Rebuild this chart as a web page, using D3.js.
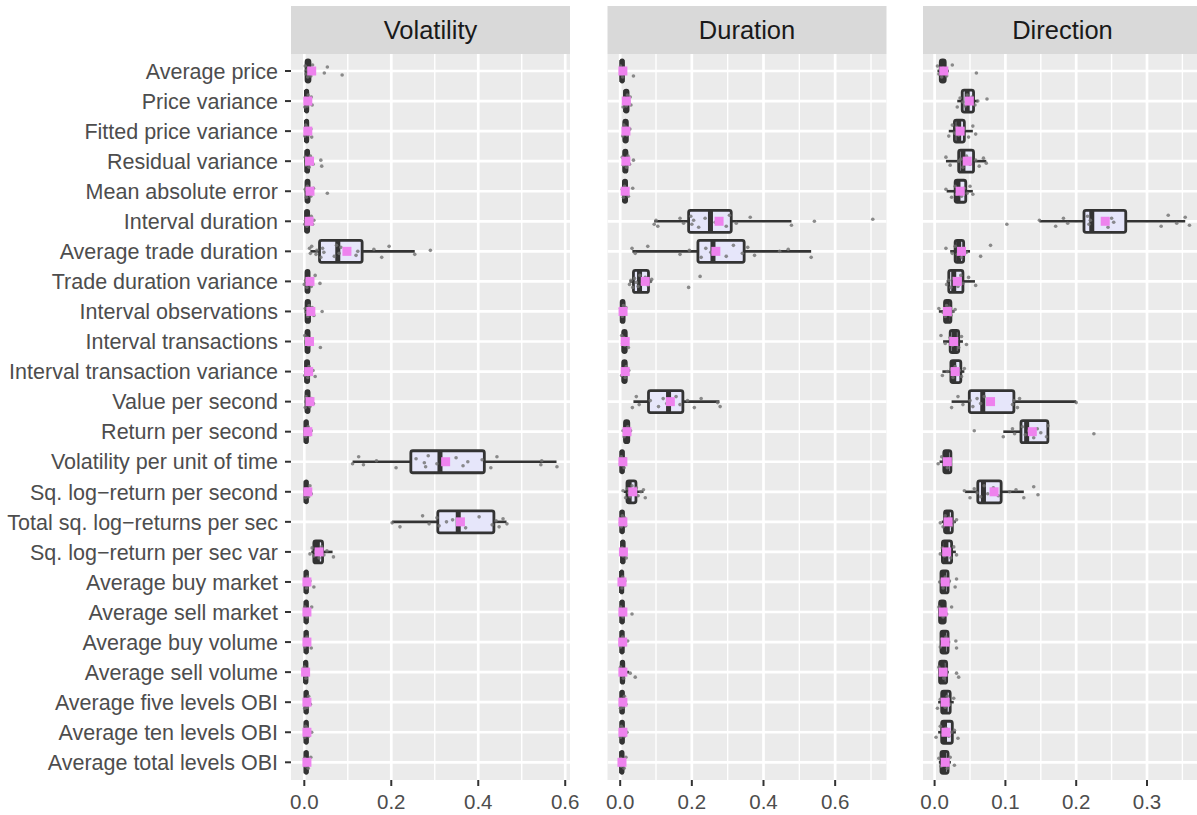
<!DOCTYPE html>
<html><head><meta charset="utf-8">
<script src="https://cdn.jsdelivr.net/npm/d3@7"></script>
<style>body{margin:0;background:#fff;}svg{display:block;}</style>
</head><body>
<svg id="chart" width="1197" height="815"></svg>
<script>
const categories = ["Average price","Price variance","Fitted price variance","Residual variance","Mean absolute error","Interval duration","Average trade duration","Trade duration variance","Interval observations","Interval transactions","Interval transaction variance","Value per second","Return per second","Volatility per unit of time","Sq. log\u2212return per second","Total sq. log\u2212returns per sec","Sq. log\u2212return per sec var","Average buy market","Average sell market","Average buy volume","Average sell volume","Average five levels OBI","Average ten levels OBI","Average total levels OBI"];
const facets = ["Volatility","Duration","Direction"];

// box stats: [lower whisker, q1, median, q3, upper whisker]
const volatilityBox = [[0.001,0.004,0.008,0.013,0.02],[0,0.003,0.005,0.008,0.012],[0,0.003,0.005,0.008,0.012],[0.001,0.004,0.006,0.01,0.015],[0.001,0.004,0.007,0.011,0.016],[0,0.003,0.006,0.01,0.015],[0.014,0.035,0.077,0.133,0.254],[0.001,0.004,0.007,0.011,0.016],[0.001,0.004,0.008,0.012,0.017],[0.001,0.004,0.007,0.011,0.015],[0,0.003,0.006,0.01,0.014],[0.001,0.004,0.007,0.011,0.016],[0,0.002,0.004,0.007,0.01],[0.111,0.245,0.312,0.414,0.58],[0,0.002,0.004,0.007,0.011],[0.202,0.307,0.354,0.436,0.465],[0.016,0.022,0.03,0.042,0.065],[0,0.002,0.004,0.007,0.01],[0,0.002,0.004,0.007,0.01],[0,0.002,0.004,0.007,0.01],[0,0.001,0.003,0.006,0.009],[0,0.002,0.004,0.007,0.01],[0,0.002,0.004,0.007,0.01],[0,0.002,0.004,0.007,0.01]];
const volatilityMean = [0.017,0.008,0.008,0.012,0.013,0.011,0.098,0.013,0.015,0.012,0.01,0.013,0.008,0.325,0.008,0.359,0.034,0.006,0.006,0.006,0.003,0.006,0.006,0.006];
const volatilityPts = [[0.002,0.004,0.006,0.008,0.01,0.012,0.015,0.019,0.046,0.053,0.087],[0.001,0.003,0.005,0.007,0.009,0.012,0.016,0.018],[0.001,0.003,0.004,0.006,0.009,0.011,0.015,0.017],[0.002,0.004,0.006,0.008,0.011,0.014,0.02,0.038,0.04],[0.002,0.005,0.007,0.009,0.012,0.015,0.021,0.053],[0.001,0.003,0.006,0.009,0.012,0.016,0.019,0.022],[0.012,0.014,0.017,0.027,0.029,0.038,0.042,0.045,0.069,0.074,0.08,0.084,0.119,0.123,0.16,0.178,0.195,0.254,0.29],[0,0.003,0.006,0.009,0.012,0.016,0.025,0.036],[0.002,0.005,0.008,0.011,0.014,0.018,0.022,0.041],[0.001,0.004,0.007,0.01,0.013,0.017,0.037],[0.001,0.003,0.005,0.008,0.011,0.015,0.02,0.025],[0.002,0.004,0.007,0.01,0.013,0.017,0.021],[0.001,0.003,0.005,0.007,0.009,0.013,0.016],[0.111,0.125,0.136,0.166,0.211,0.257,0.276,0.279,0.285,0.305,0.349,0.365,0.376,0.409,0.429,0.443,0.544,0.546,0.581],[0.001,0.003,0.005,0.007,0.01,0.013,0.016],[0.202,0.22,0.272,0.287,0.305,0.31,0.327,0.341,0.371,0.402,0.432,0.441,0.448,0.457,0.466],[0.013,0.018,0.022,0.026,0.03,0.034,0.04,0.045,0.052,0.067],[0.001,0.003,0.005,0.007,0.009,0.013,0.022],[0.001,0.003,0.004,0.006,0.008,0.011,0.017],[0.001,0.002,0.004,0.006,0.009,0.011,0.016],[0,0.001,0.002,0.004,0.006,0.008],[0.001,0.003,0.005,0.007,0.01,0.014],[0.001,0.003,0.005,0.007,0.01,0.017],[0.001,0.003,0.005,0.007,0.009,0.015]];

const durationBox = [[0,0.002,0.005,0.009,0.013],[0.008,0.012,0.016,0.022,0.028],[0.006,0.01,0.015,0.02,0.026],[0.006,0.01,0.014,0.019,0.025],[0.005,0.009,0.013,0.018,0.024],[0.095,0.191,0.252,0.31,0.478],[0.034,0.217,0.259,0.346,0.533],[0.026,0.037,0.054,0.079,0.088],[0,0.003,0.006,0.011,0.016],[0.003,0.007,0.012,0.017,0.022],[0.003,0.007,0.012,0.017,0.022],[0.037,0.079,0.135,0.175,0.277],[0.008,0.012,0.018,0.024,0.03],[0,0.002,0.005,0.009,0.013],[0.01,0.019,0.025,0.044,0.065],[0,0.002,0.005,0.009,0.013],[0.001,0.004,0.007,0.011,0.015],[0,0.002,0.004,0.007,0.011],[0,0.002,0.005,0.009,0.013],[0,0.002,0.005,0.008,0.012],[0,0.003,0.006,0.01,0.025],[0,0.002,0.005,0.009,0.013],[0,0.002,0.005,0.009,0.013],[0,0.002,0.004,0.008,0.012]];
const durationMean = [0.0075,0.017,0.016,0.016,0.014,0.276,0.267,0.07,0.008,0.014,0.014,0.14,0.019,0.0075,0.035,0.0075,0.009,0.005,0.0075,0.007,0.0075,0.0075,0.0075,0.005];
const durationPts = [[0.001,0.003,0.005,0.007,0.01,0.013,0.037],[0.008,0.011,0.014,0.017,0.02,0.024,0.028,0.03],[0.007,0.01,0.013,0.016,0.019,0.023,0.027],[0.006,0.009,0.012,0.015,0.018,0.022,0.026,0.037],[0.006,0.009,0.012,0.015,0.019,0.023,0.035],[0.095,0.1,0.105,0.167,0.177,0.197,0.2,0.205,0.219,0.237,0.265,0.296,0.305,0.324,0.363,0.478,0.542,0.705],[0.033,0.042,0.077,0.167,0.193,0.226,0.239,0.253,0.296,0.316,0.341,0.356,0.375,0.445,0.469,0.533],[0.026,0.03,0.035,0.04,0.045,0.05,0.055,0.062,0.07,0.078,0.085,0.088,0.191,0.223],[0.001,0.004,0.006,0.009,0.012,0.016],[0.004,0.007,0.01,0.013,0.016,0.02,0.023],[0.004,0.008,0.011,0.014,0.017,0.02,0.024],[0.034,0.045,0.053,0.084,0.107,0.12,0.13,0.156,0.167,0.188,0.207,0.226,0.272,0.279],[0.008,0.011,0.015,0.018,0.021,0.025,0.029],[0.001,0.003,0.005,0.008,0.011,0.014],[0.008,0.015,0.02,0.024,0.028,0.033,0.038,0.045,0.05,0.058,0.065,0.07],[0.001,0.003,0.006,0.009,0.012,0.015],[0.002,0.005,0.008,0.01,0.013,0.017],[0.001,0.003,0.005,0.007,0.01,0.013],[0.001,0.003,0.005,0.008,0.011,0.033],[0.001,0.003,0.005,0.007,0.01,0.021],[0.001,0.004,0.006,0.009,0.012,0.028,0.042],[0.001,0.003,0.006,0.009,0.012,0.016],[0.001,0.003,0.006,0.009,0.012,0.019],[0.001,0.003,0.005,0.008,0.011,0.016]];

const directionBox = [[0.004,0.008,0.012,0.015,0.02],[0.032,0.039,0.046,0.055,0.061],[0.02,0.028,0.034,0.042,0.054],[0.016,0.034,0.04,0.055,0.073],[0.017,0.029,0.033,0.044,0.054],[0.148,0.211,0.222,0.27,0.354],[0.022,0.029,0.034,0.041,0.05],[0.017,0.02,0.027,0.04,0.057],[0.006,0.014,0.018,0.023,0.028],[0.012,0.022,0.028,0.034,0.04],[0.011,0.023,0.027,0.037,0.042],[0.024,0.049,0.068,0.112,0.2],[0.097,0.122,0.13,0.16,0.16],[0.007,0.013,0.017,0.023,0.023],[0.043,0.061,0.069,0.094,0.126],[0.01,0.014,0.018,0.025,0.03],[0.009,0.011,0.016,0.024,0.03],[0.007,0.009,0.013,0.019,0.022],[0.006,0.007,0.01,0.015,0.017],[0.008,0.009,0.013,0.019,0.022],[0.006,0.007,0.011,0.017,0.02],[0.005,0.01,0.015,0.022,0.027],[0.005,0.01,0.014,0.025,0.03],[0.006,0.009,0.013,0.019,0.023]];
const directionMean = [0.013,0.049,0.036,0.046,0.036,0.241,0.038,0.032,0.018,0.027,0.029,0.079,0.138,0.018,0.084,0.019,0.017,0.015,0.012,0.015,0.012,0.015,0.016,0.015];
const directionPts = [[0.004,0.006,0.008,0.01,0.012,0.014,0.017,0.025,0.059],[0.032,0.036,0.04,0.043,0.046,0.05,0.053,0.057,0.061,0.074],[0.02,0.025,0.028,0.031,0.034,0.038,0.042,0.048,0.054,0.058],[0.016,0.022,0.034,0.037,0.04,0.045,0.05,0.058,0.063,0.069,0.073],[0.016,0.024,0.029,0.031,0.034,0.038,0.042,0.046,0.05,0.054],[0.102,0.148,0.171,0.182,0.188,0.216,0.218,0.22,0.245,0.25,0.253,0.32,0.33,0.342,0.354,0.36],[0.016,0.025,0.029,0.032,0.035,0.038,0.041,0.045,0.065,0.079],[0.017,0.02,0.023,0.026,0.029,0.033,0.037,0.04,0.048,0.058],[0.006,0.012,0.015,0.017,0.019,0.021,0.023,0.026,0.029],[0.009,0.015,0.022,0.025,0.028,0.031,0.034,0.038,0.045],[0.011,0.018,0.023,0.026,0.029,0.032,0.035,0.038,0.042],[0.024,0.033,0.04,0.05,0.054,0.06,0.065,0.07,0.11,0.112,0.117,0.12,0.2],[0.056,0.097,0.11,0.113,0.124,0.128,0.133,0.14,0.145,0.15,0.158,0.16,0.225],[0.005,0.01,0.014,0.016,0.018,0.02,0.022],[0.042,0.05,0.056,0.06,0.065,0.07,0.075,0.083,0.09,0.106,0.115,0.126,0.14,0.146],[0.008,0.012,0.015,0.018,0.021,0.024,0.027,0.031],[0.008,0.011,0.014,0.017,0.02,0.023,0.027,0.031],[0.007,0.01,0.012,0.015,0.018,0.021,0.029,0.031],[0.006,0.008,0.01,0.012,0.014,0.017,0.024],[0.008,0.01,0.013,0.016,0.019,0.03,0.031],[0.006,0.008,0.011,0.013,0.016,0.031,0.034],[0.004,0.008,0.012,0.015,0.018,0.022,0.027],[0.002,0.008,0.012,0.016,0.02,0.024,0.028,0.033],[0.006,0.009,0.012,0.015,0.018,0.022,0.028]];

const majorTicks = [[0,0.2,0.4,0.6],[0,0.2,0.4,0.6],[0,0.1,0.2,0.3]];
const minorTicks = [[0.1,0.3,0.5],[0.1,0.3,0.5,0.7],[0.05,0.15,0.25,0.35]];

// ---------- layout ----------
const panelsData = [
  {box: volatilityBox, mean: volatilityMean, pts: volatilityPts, domain: [-0.0306, 0.611]},
  {box: durationBox, mean: durationMean, pts: durationPts, domain: [-0.0354, 0.7433]},
  {box: directionBox, mean: directionMean, pts: directionPts, domain: [-0.0164, 0.3777]}
];
const panelLeft = [291, 607.5, 923], panelW = 279;
const stripTop = 6, panelTop = 54, panelBottom = 780;
const jit = [-5,3,-1,6,-3,1,5,-6,2,-4,4,0,-2,6,-5,3,-1,5,-3,2];
const font = "Liberation Sans, Arial, sans-serif";

const svg = d3.select("#chart");
const y = d3.scalePoint().domain(categories).range([71, 762.3]);
const fmt = d3.format(".1f");
const halfBox = 11;
const dark = "#333333";

panelsData.forEach((p, k) => {
  const x = d3.scaleLinear().domain(p.domain).range([panelLeft[k], panelLeft[k] + panelW]);
  const g = svg.append("g");
  const clipId = "clip" + k;
  svg.append("clipPath").attr("id", clipId).append("rect")
    .attr("x", panelLeft[k]).attr("y", panelTop).attr("width", panelW).attr("height", panelBottom - panelTop);
  // strip
  g.append("rect").attr("x", panelLeft[k]).attr("y", stripTop).attr("width", panelW).attr("height", panelTop - stripTop).attr("fill", "#D9D9D9");
  g.append("text").attr("x", panelLeft[k] + panelW / 2).attr("y", (stripTop + panelTop) / 2).attr("dy", "0.35em")
    .attr("text-anchor", "middle").attr("font-family", font).attr("font-size", 25.5)
    .attr("fill", "#1A1A1A").text(facets[k]);
  // panel bg
  g.append("rect").attr("x", panelLeft[k]).attr("y", panelTop).attr("width", panelW).attr("height", panelBottom - panelTop).attr("fill", "#EBEBEB");
  const inner = g.append("g").attr("clip-path", `url(#${clipId})`);
  inner.selectAll(".minor").data(minorTicks[k]).join("line")
    .attr("x1", d => x(d)).attr("x2", d => x(d)).attr("y1", panelTop).attr("y2", panelBottom)
    .attr("stroke", "#fff").attr("stroke-width", 1.4);
  inner.selectAll(".majorx").data(majorTicks[k]).join("line")
    .attr("x1", d => x(d)).attr("x2", d => x(d)).attr("y1", panelTop).attr("y2", panelBottom)
    .attr("stroke", "#fff").attr("stroke-width", 2.7);
  inner.selectAll(".majory").data(categories).join("line")
    .attr("x1", panelLeft[k]).attr("x2", panelLeft[k] + panelW).attr("y1", d => y(d)).attr("y2", d => y(d))
    .attr("stroke", "#fff").attr("stroke-width", 2.7);

  // boxplots
  categories.forEach((c, i) => {
    const b = p.box[i], cy = y(c);
    const bg = inner.append("g");
    bg.append("line").attr("x1", x(b[0])).attr("x2", x(b[1])).attr("y1", cy).attr("y2", cy)
      .attr("stroke", dark).attr("stroke-width", 2.6);
    bg.append("line").attr("x1", x(b[3])).attr("x2", x(b[4])).attr("y1", cy).attr("y2", cy)
      .attr("stroke", dark).attr("stroke-width", 2.6);
    bg.append("rect").attr("x", x(b[1])).attr("y", cy - halfBox).attr("width", Math.max(0.5, x(b[3]) - x(b[1]))).attr("height", 2 * halfBox)
      .attr("fill", "#E6E6FA").attr("stroke", dark).attr("stroke-width", 2.8).attr("stroke-linejoin", "round").attr("rx", 2);
    bg.append("line").attr("x1", x(b[2])).attr("x2", x(b[2])).attr("y1", cy - halfBox).attr("y2", cy + halfBox)
      .attr("stroke", dark).attr("stroke-width", 5);
  });
  // jittered points
  categories.forEach((c, i) => {
    const cy = y(c);
    inner.append("g").selectAll("circle").data(p.pts[i]).join("circle")
      .attr("cx", d => x(d)).attr("cy", (d, j) => cy + jit[(j + i * 3) % jit.length])
      .attr("r", 1.8).attr("fill", "#707070").attr("fill-opacity", 0.8);
  });
  // means
  inner.append("g").selectAll("rect").data(p.mean).join("rect")
    .attr("x", d => x(d) - 4.5).attr("y", (d, i) => y(categories[i]) - 4.5).attr("width", 9).attr("height", 9)
    .attr("fill", "#EE82EE");

  // x axis
  const ax = g.append("g");
  ax.selectAll("line").data(majorTicks[k]).join("line")
    .attr("x1", d => x(d)).attr("x2", d => x(d)).attr("y1", panelBottom).attr("y2", panelBottom + 6)
    .attr("stroke", dark).attr("stroke-width", 2);
  ax.selectAll("text").data(majorTicks[k]).join("text")
    .attr("x", d => x(d)).attr("y", 809).attr("text-anchor", "middle")
    .attr("font-family", font).attr("font-size", 20.5).attr("fill", "#4D4D4D")
    .text(d => fmt(d));

  if (k === 0) {
    const ay = g.append("g");
    ay.selectAll("line").data(categories).join("line")
      .attr("x1", panelLeft[0] - 6).attr("x2", panelLeft[0]).attr("y1", d => y(d)).attr("y2", d => y(d))
      .attr("stroke", dark).attr("stroke-width", 2);
    ay.selectAll("text").data(categories).join("text")
      .attr("x", panelLeft[0] - 13).attr("y", d => y(d)).attr("dy", "0.36em").attr("text-anchor", "end")
      .attr("font-family", font).attr("font-size", 21.5).attr("fill", "#4D4D4D")
      .text(d => d);
  }
});
</script>
</body></html>
